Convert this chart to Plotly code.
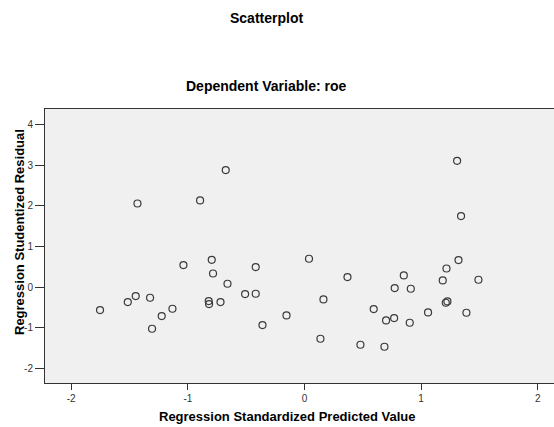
import plotly.graph_objects as go

# Regression Standardized Predicted Value (x) vs Regression Studentized Residual (y)
pred = [-1.432, -0.895, -0.675, 1.309, 1.343,
        -1.753, -1.515, -1.447, -1.324, -1.224, -1.307, -1.132, -1.038,
        -0.795, -0.784, -0.660, -0.821, -0.818, -0.720, -0.509, -0.418,
        -0.418, -0.360, -0.154,
        0.039, 0.369, 0.163, 0.137, 0.480, 0.686, 0.594, 0.700, 0.769,
        0.903, 0.774, 0.852, 0.912, 1.060, 1.186, 1.218, 1.321, 1.492,
        1.212, 1.226, 1.389]
resid = [2.056, 2.130, 2.877, 3.105, 1.746,
         -0.566, -0.369, -0.221, -0.263, -0.713, -1.025, -0.534, 0.541,
         0.671, 0.334, 0.081, -0.344, -0.418, -0.369, -0.172, 0.492,
         -0.165, -0.934, -0.698,
         0.696, 0.246, -0.305, -1.271, -1.419, -1.468, -0.541, -0.821, -0.763,
         -0.878, -0.025, 0.285, -0.042, -0.624, 0.162, 0.457, 0.664, 0.180,
         -0.386, -0.354, -0.632]

x_ticks = [-2, -1, 0, 1, 2]
y_ticks = [-2, -1, 0, 1, 2, 3, 4]

W, H = 554, 427
L, R, T, B = 45, 0, 109, 44
pw = W - L - R
ph = H - T - B

def px(x):
    return (x - L) / pw

def py(y):
    return (H - B - y) / ph

fig = go.Figure()
fig.add_trace(go.Scatter(
    x=pred, y=resid, mode="markers",
    marker=dict(symbol="circle-open", size=7, color="#3a3a3a",
                line=dict(width=1.2, color="#3a3a3a")),
    hoverinfo="x+y", showlegend=False))

font_t = dict(family="Liberation Sans, Arial, sans-serif", size=14, color="#000000")
font_b = dict(family="Liberation Sans, Arial, sans-serif", size=13, color="#000000")

fig.update_layout(
    width=W, height=H,
    margin=dict(l=L, r=R, t=T, b=B),
    paper_bgcolor="#ffffff",
    plot_bgcolor="#f0f0f0",
    font=dict(family="Liberation Sans, Arial, sans-serif", size=10, color="#222222"),
    xaxis=dict(range=[-2.225, 2.14], tickvals=x_ticks, ticktext=[str(v) for v in x_ticks],
               showgrid=False, zeroline=False, showline=True, linecolor="#333333",
               linewidth=1, mirror=True, ticks="outside", ticklen=6, tickcolor="#333333",
               tickfont=dict(size=10, color="#333333")),
    yaxis=dict(range=[-2.36, 4.38], tickvals=y_ticks, ticktext=[str(v) for v in y_ticks],
               showgrid=False, zeroline=False, showline=True, linecolor="#333333",
               linewidth=1, mirror=True, ticks="outside", ticklen=9, tickcolor="#333333",
               tickfont=dict(size=10, color="#333333")),
    annotations=[
        dict(text="<b>Scatterplot</b>", x=px(266), y=py(18), xref="paper", yref="paper",
             showarrow=False, font=font_t, xanchor="center", yanchor="middle"),
        dict(text="<b>Dependent Variable: roe</b>", x=px(266), y=py(86), xref="paper",
             yref="paper", showarrow=False, font=font_t, xanchor="center", yanchor="middle"),
        dict(text="<b>Regression Standardized Predicted Value</b>", x=px(287), y=py(416),
             xref="paper", yref="paper", showarrow=False, font=font_b,
             xanchor="center", yanchor="middle"),
        dict(text="<b>Regression Studentized Residual</b>", x=px(19), y=py(232),
             xref="paper", yref="paper", showarrow=False, font=font_b, textangle=-90,
             xanchor="center", yanchor="middle"),
    ],
)

fig.write_html("out.html")
